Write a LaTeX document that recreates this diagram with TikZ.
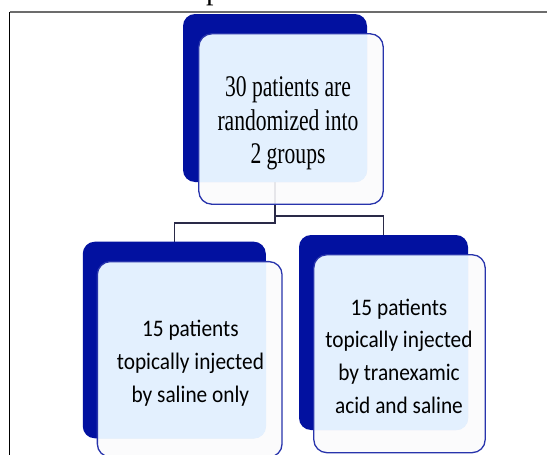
\documentclass[tikz,border=0pt]{standalone}
\usepackage{fontspec}
\setmainfont{Liberation Serif}
\newfontfamily\headfont[FakeStretch=0.72]{Liberation Serif}
\newfontfamily\groupfont[FakeStretch=0.9]{Carlito}
\definecolor{backblue}{RGB}{2,17,160}
\definecolor{overlapblue}{RGB}{227,240,254}
\definecolor{frontwhite}{RGB}{251,251,252}
\definecolor{edgeblue}{RGB}{40,52,172}
\definecolor{linkgray}{RGB}{42,42,72}
\pgfdeclarelayer{behind}
\pgfsetlayers{behind,main}
\tikzset{
  backbox/.style={rectangle, rounded corners=12pt, fill=backblue, draw=none, inner sep=0pt},
  frontbox/.style={rectangle, rounded corners=13pt, inner sep=0pt},
  link/.style={draw=linkgray, line width=1.6pt},
  headtext/.style={align=center, inner sep=0pt, font=\headfont\fontsize{30}{33.5}\selectfont},
  grouptext/.style={align=center, inner sep=0pt, font=\groupfont\fontsize{23.7}{32.8}\selectfont},
}
\begin{document}
\begin{tikzpicture}[x=1pt, y=-1pt]
\useasboundingbox (0,0) rectangle (547,455);
\begin{pgfonlayer}{behind}
\fill[white] (0,0) rectangle (547,455);
\end{pgfonlayer}

% page frame and the tail of a cut-off caption line
\draw[gray!85!black, line width=1.5pt] (9.5,12) -- (547,12);
\draw[black, line width=1.5pt] (9.5,12) -- (9.5,455);
\node[anchor=base west, inner sep=0pt, font=\fontsize{30}{30}\selectfont] (cap) at (206,-0.5) {p};

% back plates
\node[backbox, minimum width=184pt, minimum height=168pt] (tb) at (275,98) {};
\node[backbox, minimum width=183pt, minimum height=196.6pt] (lb) at (174.3,340) {};
\node[backbox, minimum width=169pt, minimum height=195pt] (rb) at (383.5,332.5) {};

% connectors, kept behind the plates
\coordinate (jl) at (275,222.7);
\coordinate (jr) at (275,215.7);
\begin{pgfonlayer}{behind}
\draw[link] (tb.south) -- (jl) -| (lb.north);
\draw[link] (jr) -| (rb.north);
\end{pgfonlayer}

% front cards
\node[frontbox, minimum width=184pt, minimum height=170pt] (tf) at (291,119) {};
\node[frontbox, minimum width=184.3pt, minimum height=195pt] (lf) at (189.7,359.3) {};
\node[frontbox, minimum width=171pt, minimum height=197.5pt] (rf) at (399.5,353.7) {};

\foreach \f/\b in {tf/tb, lf/lb, rf/rb}{
  \fill[frontwhite, fill opacity=0.9, rounded corners=13pt] (\f.south west) rectangle (\f.north east);
  \begin{scope}
    \clip[rounded corners=13pt] (\f.south west) rectangle (\f.north east);
    \fill[overlapblue, rounded corners=12pt] (\b.south west) rectangle (\b.north east);
  \end{scope}
  \draw[edgeblue, line width=1.3pt, rounded corners=13pt] (\f.south west) rectangle (\f.north east);
}

% labels
\node[headtext] (ttext) at (288,123.5) {30 patients are\\randomized into\\2 groups};
\node[grouptext] (ltext) at (190.4,363.2) {15 patients\\topically injected\\by saline only};
\node[grouptext] (rtext) at (399,356.2) {15 patients\\topically injected\\by tranexamic\\acid and saline};
\end{tikzpicture}
\end{document}
